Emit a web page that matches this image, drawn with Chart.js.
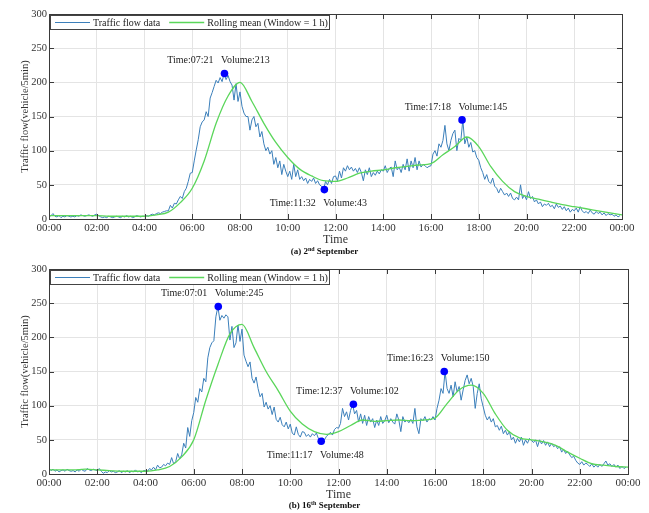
<!DOCTYPE html>
<html>
<head>
<meta charset="utf-8">
<script src="https://cdn.jsdelivr.net/npm/chart.js@4"></script>
<style>
body{margin:0;background:#fff;}
#page{position:relative;width:649px;height:513px;font-family:"Liberation Serif",serif;}
.box{position:absolute;left:0;width:649px;}
.caption{position:absolute;left:0;width:649px;text-align:center;font-weight:bold;font-size:9px;line-height:12px;color:#111;}
.caption sup{font-size:6px;vertical-align:3px;line-height:0;}
</style>
</head>
<body>
<div id="page">
<div class="box" style="top:0;height:256px"><canvas id="chartA" width="649" height="256"></canvas></div>
<div class="box" style="top:256px;height:257px"><canvas id="chartB" width="649" height="257"></canvas></div>
<div class="caption" style="top:245px">(a) 2<sup>nd</sup> September</div>
<div class="caption" style="top:499px">(b) 16<sup>th</sup> September</div>
</div>
<script>

// x axis tick labels (every 2 hours)
const tickLabels = ["00:00","02:00","04:00","06:00","08:00","10:00","12:00",
"14:00","16:00","18:00","20:00","22:00","00:00"];

// 2nd September, traffic flow every 5 min (12 values per hour)
const flowA = [
3,5,8,4,3,5,2,4,3,5,4,3,
4,3,5,4,6,5,4,5,6,5,4,6,
7,5,3,2,3,2,4,3,2,3,4,3,
2,4,3,5,3,4,2,3,5,4,3,4,
4,5,4,6,7,6,8,9,8,10,11,12,
12,20,16,23,22,28,33,30,40,45,55,67,
68,85,101,116,135,142,145,157,150,177,185,194,
203,199,207,201,213,204,210,201,196,174,198,172,
186,165,155,150,150,130,145,150,135,140,120,128,
110,100,105,95,100,80,90,75,85,65,80,70,
62,70,58,80,62,72,58,62,56,60,52,58,
55,60,52,56,50,48,43,55,50,58,52,62,
63,56,70,60,75,70,78,72,76,70,74,68,
75,68,56,72,65,75,62,68,64,70,66,72,
70,78,68,74,76,62,85,72,76,68,80,72,
88,70,85,75,90,72,85,76,80,78,75,77,
78,95,100,92,110,105,115,137,110,100,115,125,
130,100,118,115,145,110,120,105,112,98,100,90,
86,75,68,58,65,55,52,60,48,45,38,45,
40,35,38,33,38,30,28,32,28,50,30,35,
28,40,30,33,25,28,22,25,18,22,20,23,
18,20,15,22,17,19,14,18,12,16,10,14,
12,16,10,18,12,9,11,8,13,9,7,11,
8,10,6,9,5,8,6,7,4,6,3,5
];

// 2nd September, rolling mean read every 30 min
const meanA = [
5,5,5,5,5,4,4,4,4,6,10,24,45,85,140,180,200,172,140,112,
90,73,63,56,55,60,67,70,72,75,77,79,81,94,106,120,106,77,
55,40,33,29,25,21,18,15,12,9,6
];

// 2nd September, marked points
const markTimesA = ["07:21","11:32","17:18"];
const markValuesA = [213,43,145];

// 16th September, traffic flow every 5 min
const flowB = [
8,5,7,4,6,3,5,6,4,7,5,4,
5,3,6,4,7,5,4,8,6,5,7,6,
5,8,4,1,3,2,5,3,4,2,3,5,
2,4,3,5,2,4,3,6,3,4,2,5,
5,4,8,6,10,6,13,9,10,14,12,16,
14,24,15,18,30,22,28,45,38,68,55,78,
90,112,105,125,120,140,135,170,185,192,195,230,
245,225,232,228,233,230,196,216,185,192,218,194,
212,174,165,157,164,140,133,142,125,113,118,98,
105,95,100,87,98,80,76,83,72,69,76,66,
73,60,57,69,58,54,62,61,55,58,54,59,
56,60,52,48,53,50,55,58,61,57,65,68,
67,74,96,84,91,79,93,102,88,93,76,88,
74,86,71,84,76,81,68,79,71,84,74,78,
86,75,81,76,73,88,79,62,84,76,79,75,
80,74,96,69,59,81,78,84,76,81,79,84,
79,96,108,125,118,150,125,118,130,113,135,120,
128,108,123,137,145,132,140,128,96,118,132,110,
98,86,79,84,76,81,69,71,64,70,59,64,
57,62,50,54,45,52,47,54,42,50,45,52,
49,46,50,40,50,44,49,42,47,40,45,40,
42,37,40,32,36,30,33,28,24,26,20,16,
14,18,13,16,14,11,15,10,13,10,14,11,
15,19,13,15,11,14,10,13,8,11,8,10
];

// 16th September, rolling mean every 30 min
const meanB = [
6,6,6,7,6,5,4,4,4,6,11,25,50,108,160,205,219,185,150,122,
92,73,62,58,62,71,79,77,78,79,78,79,82,103,123,130,118,88,
64,53,50,47,42,32,23,15,13,11,10
];

// 16th September, marked points
const markTimesB = ["07:01","11:17","12:37","16:23"];
const markValuesB = [245,48,102,150];


function toHours(t){
  let p = t.split(":");
  return Number(p[0]) + Number(p[1])/60;
}

const serif = "'Liberation Serif', 'Times New Roman', serif";

// box around the axes with inward ticks (matlab look)
const framePlugin = {
  id:"frame",
  afterDraw(chart){
    const ctx = chart.ctx;
    const a = chart.chartArea;
    const x = chart.scales.x, y = chart.scales.y;
    ctx.save();
    ctx.strokeStyle = "#3a3a3a";
    ctx.lineWidth = 1;
    ctx.beginPath();
    x.ticks.forEach(function(t){
      let px = Math.round(x.getPixelForValue(t.value)) + 0.5;
      ctx.moveTo(px, a.bottom); ctx.lineTo(px, a.bottom - 5);
      ctx.moveTo(px, a.top); ctx.lineTo(px, a.top + 5);
    });
    y.ticks.forEach(function(t){
      let py = Math.round(y.getPixelForValue(t.value)) + 0.5;
      ctx.moveTo(a.left, py); ctx.lineTo(a.left + 5, py);
      ctx.moveTo(a.right, py); ctx.lineTo(a.right - 5, py);
    });
    ctx.stroke();
    ctx.strokeRect(Math.round(a.left) + 0.5, Math.round(a.top) + 0.5,
      Math.round(a.width), Math.round(a.height));
    ctx.restore();
  }
};

// legend drawn as a box inside the plot, top left
const boxLegendPlugin = {
  id:"boxLegend",
  afterDraw(chart){
    const ctx = chart.ctx;
    const a = chart.chartArea;
    let x0 = Math.round(a.left) + 1, y0 = Math.round(a.top) + 1;
    ctx.save();
    ctx.font = "10px " + serif;
    ctx.fillStyle = "#fff";
    ctx.fillRect(x0, y0, 279, 14);
    ctx.strokeStyle = "#444";
    ctx.lineWidth = 1;
    ctx.strokeRect(x0 + 0.5, y0 + 0.5, 279, 14);
    let cx = x0 + 5;
    let cy = y0 + 7.5;
    chart.data.datasets.slice(0,2).forEach(function(ds){
      ctx.strokeStyle = ds.borderColor;
      ctx.lineWidth = ds.borderWidth;
      ctx.beginPath();
      ctx.moveTo(cx, cy); ctx.lineTo(cx + 35, cy);
      ctx.stroke();
      ctx.fillStyle = "#222";
      ctx.textBaseline = "middle";
      ctx.fillText(ds.label, cx + 38, cy + 0.5);
      cx += 38 + ctx.measureText(ds.label).width + 9;
    });
    ctx.restore();
  }
};

// "Time:hh:mm   Volume:n" next to each marked point
const markLabelPlugin = {
  id:"markLabels",
  afterDatasetsDraw(chart, args, opts){
    const ctx = chart.ctx;
    const ds = chart.data.datasets[2];
    ctx.save();
    ctx.font = "10px " + serif;
    ctx.fillStyle = "#222";
    ctx.textAlign = "center";
    ctx.textBaseline = "middle";
    ds.data.forEach(function(p, i){
      let px = chart.scales.x.getPixelForValue(p.x);
      let py = chart.scales.y.getPixelForValue(p.y);
      let dy = opts.sides[i] === "below" ? 14 : -13;
      ctx.fillText("Time:" + opts.times[i] + "   Volume:" + p.y, px - 6, py + dy);
    });
    ctx.restore();
  }
};

function makeChart(id, flow, mean, markTimes, markValues, sides, pad){

  let ctx = document.getElementById(id).getContext("2d");

  return new Chart(ctx,{
    type:"line",
    data:{
      datasets:[{
        label:"Traffic flow data",
        data:flow.map(function(v,i){ return {x:i*5/60, y:v}; }),
        borderColor:"#3b7fba",
        borderWidth:1,
        pointRadius:0,
        tension:0,
        order:3
      },{
        label:"Rolling mean (Window = 1 h)",
        data:mean.map(function(v,i){ return {x:i*0.5, y:v}; }),
        borderColor:"#5ad65a",
        borderWidth:1.3,
        pointRadius:0,
        cubicInterpolationMode:"monotone",
        order:2
      },{
        label:"marks",
        data:markTimes.map(function(t,i){ return {x:toHours(t), y:markValues[i]}; }),
        showLine:false,
        pointRadius:3.8,
        pointBorderWidth:0,
        pointBackgroundColor:"#0000ff",
        pointBorderColor:"#0000ff",
        order:1
      }]
    },
    options:{
      responsive:false,
      animation:false,
      devicePixelRatio:1,
      layout:{padding:pad},
      plugins:{
        legend:{display:false},
        tooltip:{enabled:false},
        markLabels:{times:markTimes, sides:sides}
      },
      scales:{
        x:{
          type:"linear",
          min:0, max:24,
          grid:{color:"#e4e4e4", drawTicks:false},
          border:{display:false},
          ticks:{
            stepSize:2, padding:3, maxRotation:0, autoSkip:false,
            color:"#333", font:{family:serif, size:11},
            callback:function(v){ return tickLabels[v/2]; }
          },
          title:{display:true, text:"Time", color:"#333",
            font:{family:serif, size:12, lineHeight:1}, padding:0},
          afterFit:function(s){ s.height = 27; }
        },
        y:{
          min:0, max:300,
          grid:{color:"#e4e4e4", drawTicks:false},
          border:{display:false},
          ticks:{stepSize:50, padding:2, color:"#333", font:{family:serif, size:10.5}},
          title:{display:true, text:"Traffic flow(vehicle/5min)", color:"#333",
            font:{family:serif, size:10.5, lineHeight:1}, padding:{top:20, bottom:0}},
          afterFit:function(s){ s.width = 49; }
        }
      }
    },
    plugins:[framePlugin, boxLegendPlugin, markLabelPlugin]
  });
}

makeChart("chartA", flowA, meanA, markTimesA, markValuesA,
  ["above","below","above"], {top:14, right:27, bottom:10, left:0});

makeChart("chartB", flowB, meanB, markTimesB, markValuesB,
  ["above","below","above","above"], {top:13, right:21, bottom:12, left:0});

</script>
</body>
</html>
